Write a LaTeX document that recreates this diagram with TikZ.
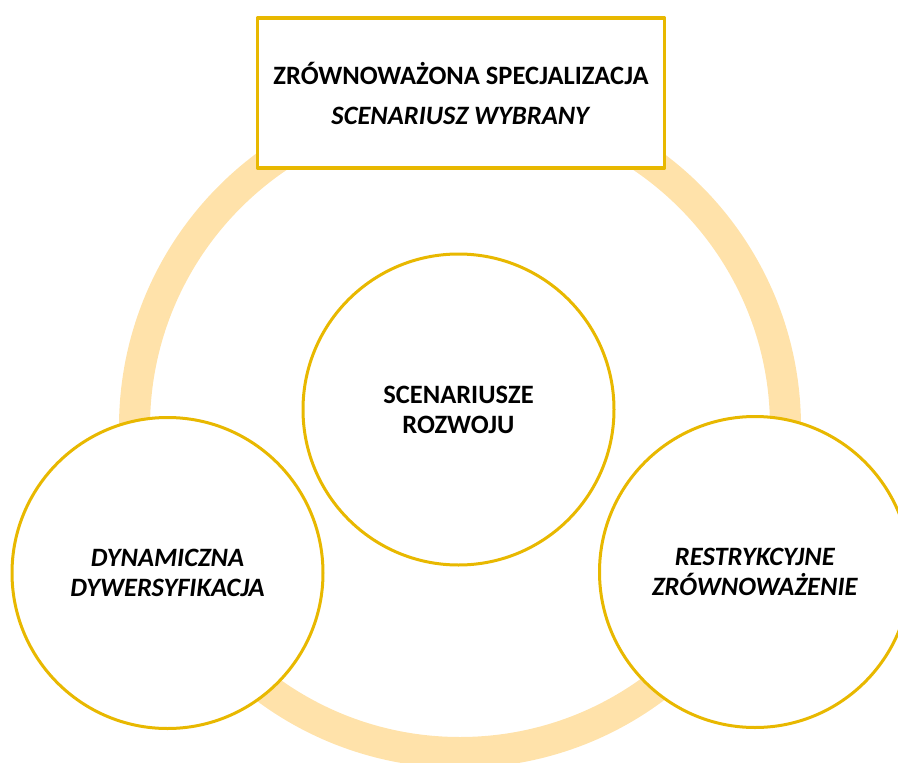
\documentclass[tikz,border=0pt]{standalone}
\usepackage{fontspec}
\setmainfont{Carlito}
\definecolor{zloty}{RGB}{232,184,0}
\definecolor{pierscien}{RGB}{255,226,170}
\begin{document}
\begin{tikzpicture}[x=1pt,y=-1pt, line join=round,
	kolo/.style={circle,draw=zloty,fill=white,line width=3pt,minimum size=311pt,inner sep=0pt,align=center,font=\fontsize{26.5}{30}\selectfont\bfseries},
	ramka/.style={rectangle,draw=zloty,fill=white,line width=3.5pt,minimum width=407pt,minimum height=150pt,align=center,font=\fontsize{26.5}{40}\selectfont\bfseries}]
	\def\R{325.5} \def\grub{31}
	\useasboundingbox (0,0) rectangle (898,763);
	%	pierscien
	\draw[pierscien,line width=\grub pt] (460,427) circle[radius=\R pt];
	\node[ramka] (wybrany) at (461,93) {ZRÓWNOWAŻONA SPECJALIZACJA\\\textit{SCENARIUSZ WYBRANY}};
	\node[kolo] (rozwoj) at (458.5,409.5) {SCENARIUSZE\\ROZWOJU};
	\node[kolo] (dynamiczna) at (167.5,573) {\textit{DYNAMICZNA}\\\textit{DYWERSYFIKACJA}};
	\node[kolo] (restrykcyjne) at (755,572) {\textit{RESTRYKCYJNE}\\\textit{ZRÓWNOWAŻENIE}};
\end{tikzpicture}
\end{document}
